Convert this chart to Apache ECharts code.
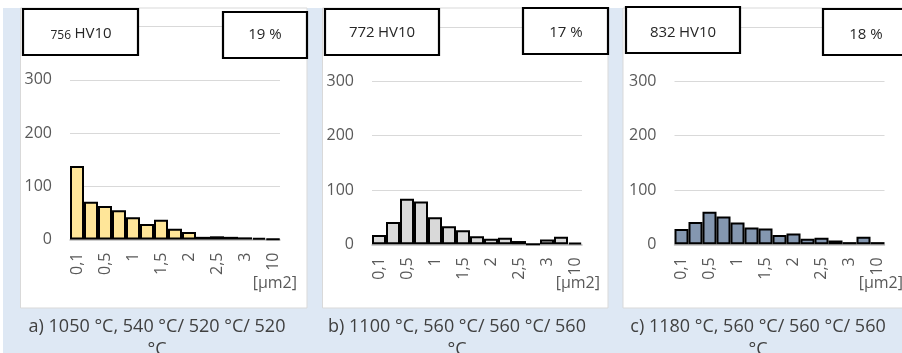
<!DOCTYPE html>
<html>
<head>
<meta charset="utf-8">
<script src="https://cdn.jsdelivr.net/npm/echarts@6/dist/echarts.min.js"></script>
<style>
html,body{margin:0;padding:0;background:#fff;}
#c{width:902px;height:353px;}
</style>
</head>
<body>
<div id="c"></div>
<script>
// ---- data ----
var categories = ['0,1','0,25','0,5','0,75','1','1,25','1,5','1,75','2','2,25','2,5','2,75','3','5','10'];
var valuesA = [138, 71, 63, 55, 42, 29, 37, 20, 14, 5, 6, 5, 4, 3, 1];
var valuesB = [17, 41, 84, 79, 50, 33, 26, 15, 10, 12, 6, 0, 9, 14, 3];
var valuesC = [28, 41, 60, 51, 40, 31, 29, 17, 20, 10, 12, 7, 4, 14, 4];
var yTicks = [0, 100, 200, 300, 400];
var hardness = ['756', '772', '832'];
var percents = ['19 %', '17 %', '18 %'];
var captions = ['a) 1050 °C, 540 °C/ 520 °C/ 520', 'b) 1100 °C, 560 °C/ 560 °C/ 560', 'c) 1180 °C, 560 °C/ 560 °C/ 560'];
var unitLabel = '[µm2]';

var FONT = '"Open Sans", "Noto Sans", sans-serif';
var colors = ['#ffe699', '#d9d9d9', '#8497b0'];
var grids = [
  {left: 70, top: 26.7, width: 210, height: 212.8},
  {left: 372, top: 27, width: 210, height: 217.3},
  {left: 674.5, top: 27, width: 210, height: 217.3}
];
var panels = [
  {x: 20.5, w: 286.5},
  {x: 322.5, w: 285.5},
  {x: 623, w: 290}
];
var boxesL = [
  {x: 23, y: 9, w: 115, h: 46, tx: 81, ty: 34},
  {x: 325, y: 9, w: 114, h: 46, tx: 382, ty: 33},
  {x: 626, y: 7, w: 114, h: 46, tx: 683, ty: 33}
];
var boxesR = [
  {x: 223, y: 12, w: 84, h: 46, tx: 265, ty: 35},
  {x: 523, y: 8, w: 85, h: 46, tx: 566, ty: 33},
  {x: 823, y: 9, w: 90, h: 46, tx: 866, ty: 35}
];
var captionX = [157, 457, 758];
var unitX = [297, 600, 903];
var allValues = [valuesA, valuesB, valuesC];

var graphic = [];
graphic.push({type: 'rect', z: -20, shape: {x: 3, y: 8, width: 902, height: 350}, style: {fill: '#dee8f4'}});
for (var i = 0; i < 3; i++) {
  graphic.push({type: 'rect', z: -10, shape: {x: panels[i].x, y: 8, width: panels[i].w, height: 300}, style: {fill: '#ffffff', stroke: '#d9d9d9', lineWidth: 1}});
  var bl = boxesL[i], br = boxesR[i];
  graphic.push({type: 'rect', z: 100, shape: {x: bl.x, y: bl.y, width: bl.w, height: bl.h}, style: {fill: '#ffffff', stroke: '#000000', lineWidth: 2.2}});
  graphic.push({type: 'rect', z: 100, shape: {x: br.x, y: br.y, width: br.w, height: br.h}, style: {fill: '#ffffff', stroke: '#000000', lineWidth: 2.2}});
  var small = (i === 0);
  graphic.push({type: 'text', z: 101, x: bl.tx, y: bl.ty, style: {
    text: '{n|' + hardness[i] + '} {h|HV10}',
    rich: {
      n: {fontSize: small ? 12 : 15, fontFamily: FONT, fill: '#262626', verticalAlign: 'bottom'},
      h: {fontSize: 15, fontFamily: FONT, fill: '#262626'}
    },
    align: 'center', verticalAlign: 'middle'}});
  graphic.push({type: 'text', z: 101, x: br.tx, y: br.ty, style: {text: percents[i], fontSize: 15, fontFamily: FONT, fill: '#262626', align: 'center', verticalAlign: 'middle'}});
  graphic.push({type: 'text', z: 50, x: unitX[i], y: 283, style: {text: unitLabel, fontSize: 16, fontFamily: FONT, fill: '#595959', align: 'right', verticalAlign: 'middle'}});
  graphic.push({type: 'text', z: 50, x: captionX[i], y: 327, style: {text: captions[i], fontSize: 18, fontFamily: FONT, fill: '#404040', align: 'center', verticalAlign: 'middle'}});
  graphic.push({type: 'text', z: 50, x: captionX[i], y: 350, style: {text: '°C', fontSize: 18, fontFamily: FONT, fill: '#404040', align: 'center', verticalAlign: 'middle'}});
}

var xAxes = [], yAxes = [], series = [];
for (var k = 0; k < 3; k++) {
  xAxes.push({
    type: 'category', gridIndex: k, data: categories,
    axisTick: {show: false},
    axisLine: {lineStyle: {color: '#bfbfbf', width: 1.5}},
    axisLabel: {interval: 1, rotate: 90, margin: 13, fontSize: 16, fontFamily: FONT, color: '#595959'}
  });
  yAxes.push({
    type: 'value', gridIndex: k, min: yTicks[0], max: yTicks[yTicks.length - 1], interval: 100,
    axisLine: {show: false}, axisTick: {show: false},
    axisLabel: {margin: 18, fontSize: 16, fontFamily: FONT, color: '#595959'},
    splitLine: {lineStyle: {color: '#d9d9d9', width: 1.2}}
  });
  series.push({
    type: 'bar', xAxisIndex: k, yAxisIndex: k, data: allValues[k],
    barCategoryGap: '0%',
    itemStyle: {color: colors[k], borderColor: '#000000', borderWidth: 2},
    animation: false
  });
}

var chart = echarts.init(document.getElementById('c'), null, {renderer: 'canvas'});
chart.setOption({
  animation: false,
  grid: grids,
  xAxis: xAxes,
  yAxis: yAxes,
  series: series,
  graphic: graphic
});
</script>
</body>
</html>
